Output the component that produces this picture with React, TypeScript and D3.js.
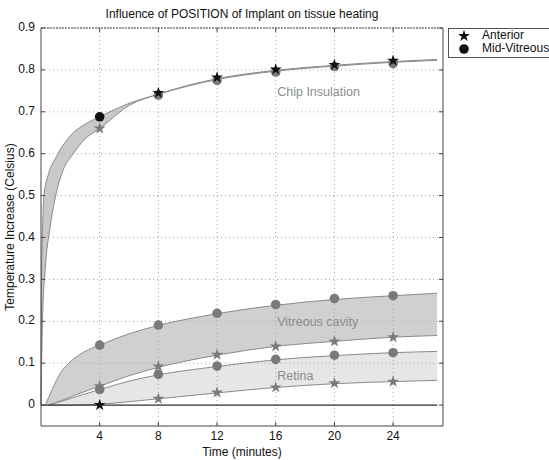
import React from "react";
import * as d3 from "d3";

const xTicks = [4, 8, 12, 16, 20, 24];
const yTicks = [0, 0.1, 0.2, 0.3, 0.4, 0.5, 0.6, 0.7, 0.8, 0.9];
const markerX = [4, 8, 12, 16, 20, 24];

// Chip insulation band
const chipUpper: [number, number][] = [
  [0, 0], [0.03, 0.27], [0.1, 0.41], [0.2, 0.5], [0.5, 0.55], [1, 0.59], [1.5, 0.62],
  [2.2, 0.65], [3, 0.67], [4, 0.688], [6, 0.72], [8, 0.742], [12, 0.777], [16, 0.797],
  [20, 0.809], [24, 0.818], [27, 0.823],
];
const chipLower: [number, number][] = [
  [0, 0], [0.1, 0.2], [0.3, 0.33], [0.6, 0.42], [1, 0.5], [1.5, 0.56], [2.2, 0.6],
  [3, 0.635], [4, 0.66], [6, 0.715], [8, 0.742], [12, 0.779], [16, 0.799], [20, 0.811],
  [24, 0.82], [27, 0.825],
];
const chipStars = [0.66, 0.745, 0.782, 0.801, 0.812, 0.822];
const chipCircles = [0.688, 0.74, 0.775, 0.795, 0.808, 0.815];

// Vitreous cavity band
const vitUpper: [number, number][] = [
  [0.3, 0], [0.8, 0.04], [1.3, 0.075], [1.9, 0.1], [3, 0.128], [4, 0.143], [6, 0.17],
  [8, 0.19], [12, 0.218], [16, 0.238], [20, 0.252], [24, 0.261], [27, 0.267],
];
const vitLower: [number, number][] = [
  [0.5, 0], [1.5, 0.012], [2.5, 0.026], [4, 0.045], [6, 0.07], [8, 0.09], [12, 0.119],
  [16, 0.14], [20, 0.152], [24, 0.162], [27, 0.166],
];
const vitStars = [0.045, 0.092, 0.12, 0.14, 0.152, 0.162];
const vitCircles = [0.143, 0.191, 0.219, 0.24, 0.254, 0.261];

// Retina band
const retUpper: [number, number][] = [
  [0.5, 0], [1.5, 0.01], [2.5, 0.021], [4, 0.037], [6, 0.057], [8, 0.072], [12, 0.092],
  [16, 0.108], [20, 0.118], [24, 0.125], [27, 0.128],
];
const retLower: [number, number][] = [
  [0.5, 0], [2, 0], [4, 0.002], [6, 0.008], [8, 0.015], [12, 0.029], [16, 0.042],
  [20, 0.051], [24, 0.056], [27, 0.059],
];
const retStars = [0, 0.015, 0.03, 0.042, 0.052, 0.056];
const retCircles = [0.037, 0.073, 0.093, 0.109, 0.119, 0.125];

const legendLabels = ["Anterior", "Mid-Vitreous"];
const bandLabels = [
  { text: "Chip Insulation", x: 16.1, y: 0.745 },
  { text: "Vitreous cavity", x: 16.1, y: 0.197 },
  { text: "Retina", x: 16.1, y: 0.067 },
];

const W = 549, H = 460;
const L = 41, R = 443, T = 28, B = 426;
const FONT = "'Liberation Sans', Arial, Helvetica, sans-serif";

export default function App() {
  const x = d3.scaleLinear().domain([0, 27.4]).range([L, R]);
  const y = d3.scaleLinear().domain([-0.05, 0.9]).range([B, T]);
  const line = d3.line<[number, number]>().x(d => x(d[0])).y(d => y(d[1])).curve(d3.curveMonotoneX);
  const band = (up: [number, number][], lo: [number, number][]) => {
    const a = line(up) as string;
    const b = (line([...lo].reverse()) as string).replace(/^M/, "L");
    return a + b + "Z";
  };
  const starPath = d3.symbol().type(d3.symbolStar).size(44)() as string;
  const gray = "#7a7a7a";
  const black = "#111";

  const star = (cx: number, cy: number, fill: string, key: string) => (
    <path key={key} d={starPath} transform={`translate(${cx},${cy})`} fill={fill} />
  );
  const circ = (cx: number, cy: number, fill: string, key: string) => (
    <circle key={key} cx={cx} cy={cy} r={4.8} fill={fill} />
  );

  return (
    <svg width={W} height={H} style={{ position: "absolute", left: 0, top: 0, background: "#fff" }} fontFamily={FONT}>
      <rect x={0} y={0} width={W} height={H} fill="#fff" />
      {/* bands */}
      <path d={band(chipUpper, chipLower)} fill="#c9c9c9" stroke="none" />
      <path d={band(vitUpper, vitLower)} fill="#d0d0d0" stroke="none" />
      <path d={band(retUpper, retLower)} fill="#e6e6e6" stroke="none" />
      {/* grid */}
      {xTicks.map(t => (
        <line key={"gx" + t} x1={x(t)} x2={x(t)} y1={T} y2={B} stroke="#a8a8a8" strokeWidth={1} strokeDasharray="1,3" />
      ))}
      {yTicks.map(t => (
        <line key={"gy" + t} x1={L} x2={R} y1={y(t)} y2={y(t)} stroke="#a8a8a8" strokeWidth={1} strokeDasharray="1,3" />
      ))}
      {/* edges */}
      {[chipUpper, chipLower, vitUpper, vitLower, retUpper, retLower].map((s, i) => (
        <path key={"e" + i} d={line(s) as string} fill="none" stroke="#8a8a8a" strokeWidth={1} />
      ))}
      <line x1={x(0)} x2={x(27)} y1={y(0)} y2={y(0)} stroke="#333" strokeWidth={1.2} />
      {/* markers */}
      {markerX.map((m, i) => circ(x(m), y(vitCircles[i]), gray, "vc" + i))}
      {markerX.map((m, i) => star(x(m), y(vitStars[i]), gray, "vs" + i))}
      {markerX.map((m, i) => circ(x(m), y(retCircles[i]), gray, "rc" + i))}
      {markerX.map((m, i) => star(x(m), y(retStars[i]), i === 0 ? black : gray, "rs" + i))}
      {markerX.map((m, i) => circ(x(m), y(chipCircles[i]), i === 0 ? black : gray, "cc" + i))}
      {markerX.map((m, i) => star(x(m), y(chipStars[i]), i === 0 ? gray : black, "cs" + i))}
      {/* band labels */}
      {bandLabels.map(b => (
        <text key={b.text} x={x(b.x)} y={y(b.y)} fill="#8c8c8c" fontSize={12.5} dominantBaseline="middle">{b.text}</text>
      ))}
      {/* frame */}
      <line x1={L} x2={L} y1={T} y2={B} stroke="#444" strokeWidth={1} />
      <line x1={R} x2={R} y1={T} y2={B} stroke="#444" strokeWidth={1} />
      <line x1={L} x2={R} y1={B} y2={B} stroke="#444" strokeWidth={1} />
      <line x1={L} x2={R} y1={T} y2={T} stroke="#444" strokeWidth={1} strokeDasharray="2,1" />
      {xTicks.map(t => (
        <g key={"tx" + t}>
          <line x1={x(t)} x2={x(t)} y1={B} y2={B - 4} stroke="#444" />
          <line x1={x(t)} x2={x(t)} y1={T} y2={T + 4} stroke="#444" />
          <text x={x(t)} y={B + 14} fontSize={12} textAnchor="middle" fill="#111">{t}</text>
        </g>
      ))}
      {yTicks.map(t => (
        <g key={"ty" + t}>
          <line x1={L} x2={L + 4} y1={y(t)} y2={y(t)} stroke="#444" />
          <line x1={R} x2={R - 4} y1={y(t)} y2={y(t)} stroke="#444" />
          <text x={L - 6} y={y(t)} fontSize={12} textAnchor="end" dominantBaseline="middle" fill="#111">{t === 0 ? "0" : t.toFixed(1)}</text>
        </g>
      ))}
      {/* titles */}
      <text x={(L + R) / 2} y={18} fontSize={12} textAnchor="middle" fill="#111">Influence of POSITION of Implant on tissue heating</text>
      <text x={(L + R) / 2} y={456} fontSize={12} textAnchor="middle" fill="#111">Time (minutes)</text>
      <text transform={`translate(11,${(T + B) / 2}) rotate(-90)`} fontSize={12} textAnchor="middle" dominantBaseline="middle" fill="#111">Temperature Increase (Celsius)</text>
      {/* legend */}
      <rect x={448.5} y={28.5} width={104} height={29} fill="#fff" stroke="#555" strokeWidth={1} />
      {star(464, 36, black, "ls")}
      {circ(464, 49, black, "lc")}
      {legendLabels.map((l, i) => (
        <text key={l} x={482} y={36 + i * 13} fontSize={12} dominantBaseline="middle" fill="#111">{l}</text>
      ))}
    </svg>
  );
}
